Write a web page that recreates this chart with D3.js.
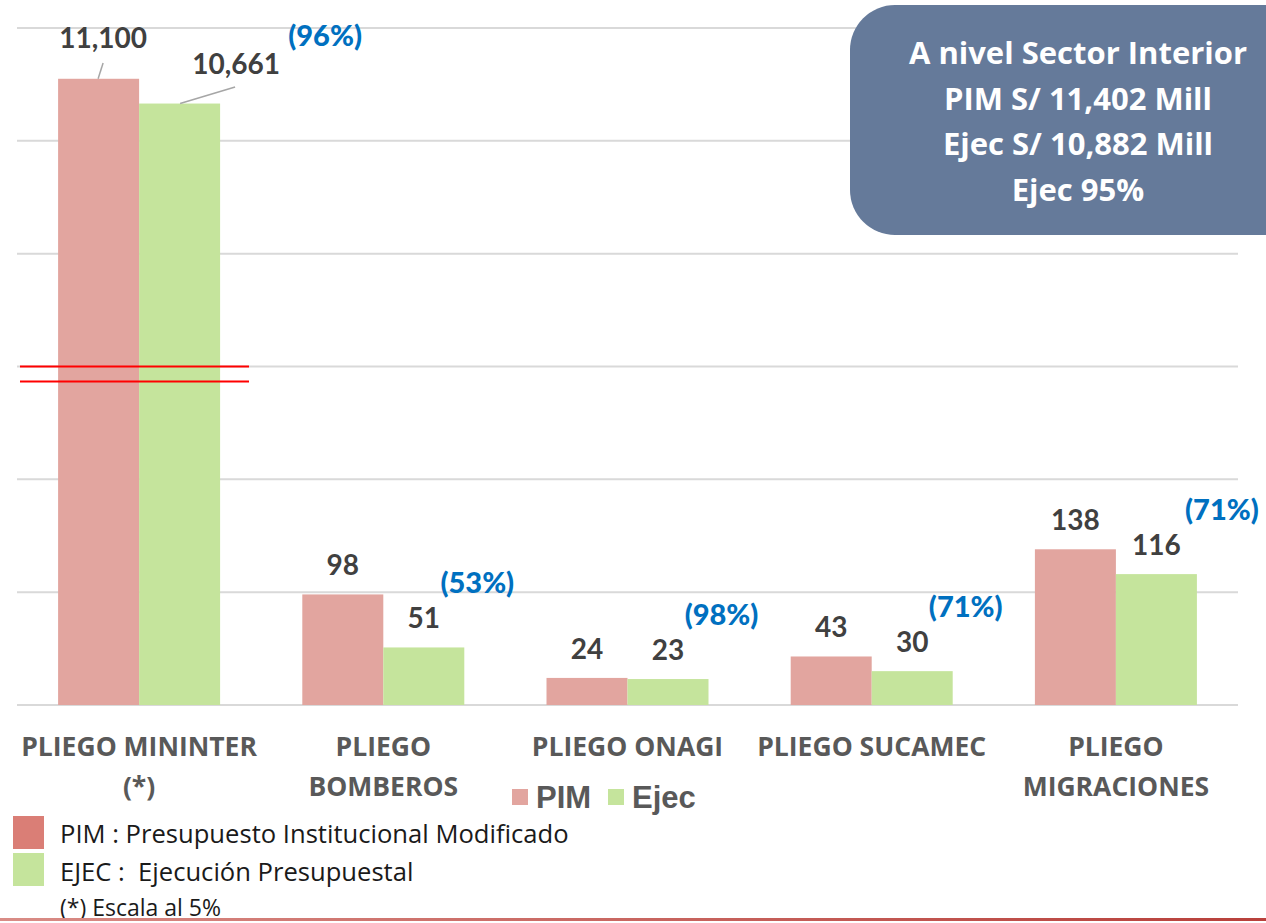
<!DOCTYPE html>
<html>
<head>
  <meta charset="utf-8">
  <title>PIM vs Ejec por pliego</title>
  <script src="https://d3js.org/d3.v7.min.js"></script>
  <style>
    body { margin: 0; background: #fff; }
    svg { display: block; }
    text { white-space: pre; }
  </style>
</head>
<body>
  <svg id="chart"></svg>

  <script>
    // datos (millones de soles)
    var pliegos = ["PLIEGO MININTER|(*)", "PLIEGO|BOMBEROS", "PLIEGO ONAGI", "PLIEGO SUCAMEC", "PLIEGO|MIGRACIONES"];
    var pim = [11100, 98, 24, 43, 138];
    var ejec = [10661, 51, 23, 30, 116];
    var avance = ["(96%)", "(53%)", "(98%)", "(71%)", "(71%)"];
    var escala = [0.05, 1, 1, 1, 1];   // MININTER dibujado al 5%
    var yTicks = [0, 100, 200, 300, 400, 500, 600];
    var cuadro = ["A nivel Sector Interior", "PIM S/ 11,402 Mill", "Ejec S/ 10,882 Mill", "Ejec 95%"];

    var W = 1266, H = 923;
    var colPim = "#E2A59F", colEjec = "#C5E49C";

    var svg = d3.select("#chart").attr("width", W).attr("height", H);

    var x = d3.scaleBand().domain(d3.range(pliegos.length)).range([17, 1238]);
    var xs = d3.scaleBand().domain(["pim", "ejec"]).range([0, 162]);
    var y = d3.scaleLinear().domain([0, 600]).range([705, 28]);

    // lineas de cuadricula
    svg.append("g").selectAll("line")
      .data(yTicks)
      .enter().append("line")
      .attr("x1", 17).attr("x2", 1238)
      .attr("y1", function(d) { return y(d); })
      .attr("y2", function(d) { return y(d); })
      .attr("stroke", "#D9D9D9")
      .attr("stroke-width", 2);

    var filas = pliegos.map(function(p, i) {
      return { i: i, pim: pim[i], ejec: ejec[i], pct: avance[i], k: escala[i] };
    });

    var grupos = svg.append("g").selectAll("g")
      .data(filas)
      .enter().append("g")
      .attr("transform", function(d) { return "translate(" + (x(d.i) + x.bandwidth() / 2 - 81) + ",0)"; });

    grupos.append("rect")
      .attr("x", xs("pim"))
      .attr("width", xs.bandwidth())
      .attr("y", function(d) { return y(d.pim * d.k); })
      .attr("height", function(d) { return y(0) - y(d.pim * d.k); })
      .attr("fill", colPim);

    grupos.append("rect")
      .attr("x", xs("ejec"))
      .attr("width", xs.bandwidth())
      .attr("y", function(d) { return y(d.ejec * d.k); })
      .attr("height", function(d) { return y(0) - y(d.ejec * d.k); })
      .attr("fill", colEjec);

    var fmt = d3.format(",");
    var valStyle = function(sel) {
      sel.attr("font-family", "Lato, 'Open Sans', sans-serif")
        .attr("font-weight", "bold")
        .attr("font-size", 28)
        .attr("fill", "#404040")
        .attr("text-anchor", "middle");
    };

    // etiquetas de valor (las de MININTER van desplazadas con linea guia)
    grupos.append("text")
      .call(valStyle)
      .attr("x", function(d) { return d.i === 0 ? xs("pim") + 45 : xs("pim") + xs.bandwidth() / 2; })
      .attr("y", function(d) { return d.i === 0 ? 48 : y(d.pim * d.k) - 19; })
      .text(function(d) { return fmt(d.pim); });

    grupos.append("text")
      .call(valStyle)
      .attr("x", function(d) { return d.i === 0 ? xs("ejec") + 97 : xs("ejec") + xs.bandwidth() / 2; })
      .attr("y", function(d) { return d.i === 0 ? 74 : y(d.ejec * d.k) - 19; })
      .text(function(d) { return fmt(d.ejec); });

    grupos.append("text")
      .attr("font-family", "Lato, 'Open Sans', sans-serif")
      .attr("font-weight", 900)
      .attr("font-size", 29)
      .attr("fill", "#0070C0")
      .attr("text-anchor", "middle")
      .attr("x", function(d) { return d.i === 0 ? xs("ejec") + 186 : (d.i === 4 ? xs("ejec") + 106 : xs("ejec") + 94); })
      .attr("y", function(d) { return d.i === 0 ? 46 : y(d.ejec * d.k) - 54; })
      .text(function(d) { return d.pct; });

    // lineas guia MININTER
    var g0 = grupos.filter(function(d) { return d.i === 0; });
    g0.append("line")
      .attr("x1", 45).attr("y1", 63)
      .attr("x2", 40).attr("y2", function(d) { return y(d.pim * d.k); })
      .attr("stroke", "#A6A6A6").attr("stroke-width", 1.5);
    g0.append("line")
      .attr("x1", 177).attr("y1", 87)
      .attr("x2", 122).attr("y2", function(d) { return y(d.ejec * d.k); })
      .attr("stroke", "#A6A6A6").attr("stroke-width", 1.5);

    // corte de escala
    svg.append("g").selectAll("line")
      .data([0, 15])
      .enter().append("line")
      .attr("x1", 20).attr("x2", 249)
      .attr("y1", function(d) { return y(300) + d; })
      .attr("y2", function(d) { return y(300) + d; })
      .attr("stroke", "#FF0000")
      .attr("stroke-width", 2.2);

    // etiquetas de categoria
    var cats = svg.append("g").selectAll("text")
      .data(pliegos)
      .enter().append("text")
      .attr("font-family", "'Open Sans', sans-serif")
      .attr("font-weight", "bold")
      .attr("font-size", 26.5)
      .attr("fill", "#595959")
      .attr("text-anchor", "middle")
      .attr("x", function(d, i) { return x(i) + x.bandwidth() / 2; })
      .attr("y", 756);
    cats.selectAll("tspan")
      .data(function(d) { return d.split("|"); })
      .enter().append("tspan")
      .attr("x", function() { return d3.select(this.parentNode).attr("x"); })
      .attr("dy", function(d, j) { return j === 0 ? 0 : 40; })
      .text(function(d) { return d; });

    // leyenda del grafico
    var leg = svg.append("g").attr("font-family", "'Liberation Sans', Arial, sans-serif")
      .attr("font-weight", "bold").attr("font-size", 31).attr("fill", "#595959");
    leg.append("rect").attr("x", 512).attr("y", 789).attr("width", 16).attr("height", 16).attr("fill", colPim);
    leg.append("text").attr("x", 536).attr("y", 808).text("PIM");
    leg.append("rect").attr("x", 608).attr("y", 789).attr("width", 16).attr("height", 16).attr("fill", colEjec);
    leg.append("text").attr("x", 632).attr("y", 808).text("Ejec");

    // notas inferiores
    var notas = svg.append("g").attr("font-family", "'Open Sans', sans-serif").attr("font-size", 25.6).attr("fill", "#1a1a1a");
    notas.append("rect").attr("x", 13).attr("y", 816).attr("width", 31).attr("height", 33).attr("fill", "#DA7E76");
    notas.append("text").attr("x", 60).attr("y", 843).text("PIM : Presupuesto Institucional Modificado");
    notas.append("rect").attr("x", 13).attr("y", 853).attr("width", 31).attr("height", 33).attr("fill", "#C5E49C");
    notas.append("text").attr("x", 60).attr("y", 881).text("EJEC :  Ejecución Presupuestal");
    notas.append("text").attr("x", 60).attr("y", 916).attr("font-size", 23).text("(*) Escala al 5%");

    // linea inferior
    var grad = svg.append("defs").append("linearGradient").attr("id", "pie");
    grad.append("stop").attr("offset", "0%").attr("stop-color", "#D98C86");
    grad.append("stop").attr("offset", "100%").attr("stop-color", "#B8403B");
    svg.append("rect").attr("x", 0).attr("y", 918).attr("width", W).attr("height", 3).attr("fill", "url(#pie)");

    // cuadro resumen
    svg.append("rect")
      .attr("x", 850).attr("y", 5).attr("width", 480).attr("height", 230)
      .attr("rx", 45).attr("ry", 45)
      .attr("fill", "#657A9A");
    svg.append("g").selectAll("text")
      .data(cuadro)
      .enter().append("text")
      .attr("font-family", "'Open Sans', sans-serif")
      .attr("font-weight", "bold")
      .attr("font-size", 31)
      .attr("fill", "#fff")
      .attr("text-anchor", "middle")
      .attr("x", 1078)
      .attr("y", function(d, i) { return 64 + i * 45.5; })
      .text(function(d) { return d; });
  </script>
</body>
</html>
